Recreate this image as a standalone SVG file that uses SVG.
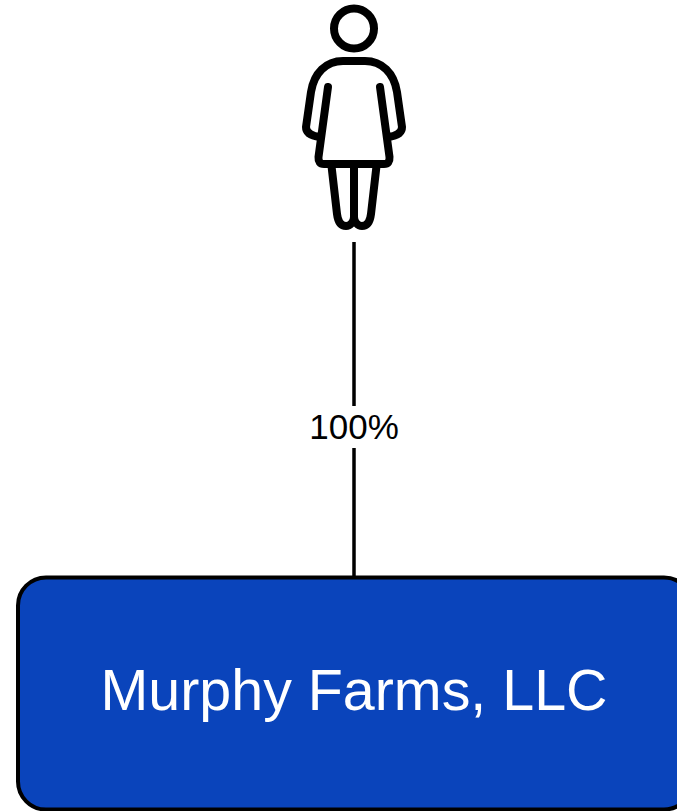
<svg xmlns="http://www.w3.org/2000/svg" width="677" height="811" viewBox="0 0 677 811">
<style>
.ic{fill:none;stroke:#000;stroke-width:8;stroke-linecap:round;stroke-linejoin:round}
.t{font-family:"Liberation Sans",Arial,sans-serif;text-anchor:middle}
</style>
<rect width="677" height="811" fill="#fff"/>
<g id="connectors">
<path d="M354 242V406M354 448V578" fill="none" stroke="#000" stroke-width="3.5"/>
<text class="t" x="354" y="439" font-size="35" fill="#000">100%</text>
</g>
<g id="person">
<circle class="ic" cx="354" cy="28.500" r="20"/>
<path class="ic" d="M328 87L318.500 157Q318 164 324 164H384Q390 164 389.500 157L380 87M320 137C312 136 306 133 306 127L311 92C314 73 326 61 343 61H365C382 61 394 73 397 92L402 127C402 133 396 136 388 137"/>
<path class="ic" d="M331.500 166L337 214C338 222 341 226 346 226C350 226 354 222 354 217V166M354 217C354 222 358 226 362 226C367 226 370 222 371 214L376.500 166"/>
</g>
<g id="murphy-farms">
<rect x="18" y="577.500" width="674" height="232" rx="28" ry="28" fill="#0a44bb" stroke="#000" stroke-width="4"/>
<text class="t" x="354" y="710" font-size="57.400" fill="#fff">Murphy Farms, LLC</text>
</g>
</svg>
